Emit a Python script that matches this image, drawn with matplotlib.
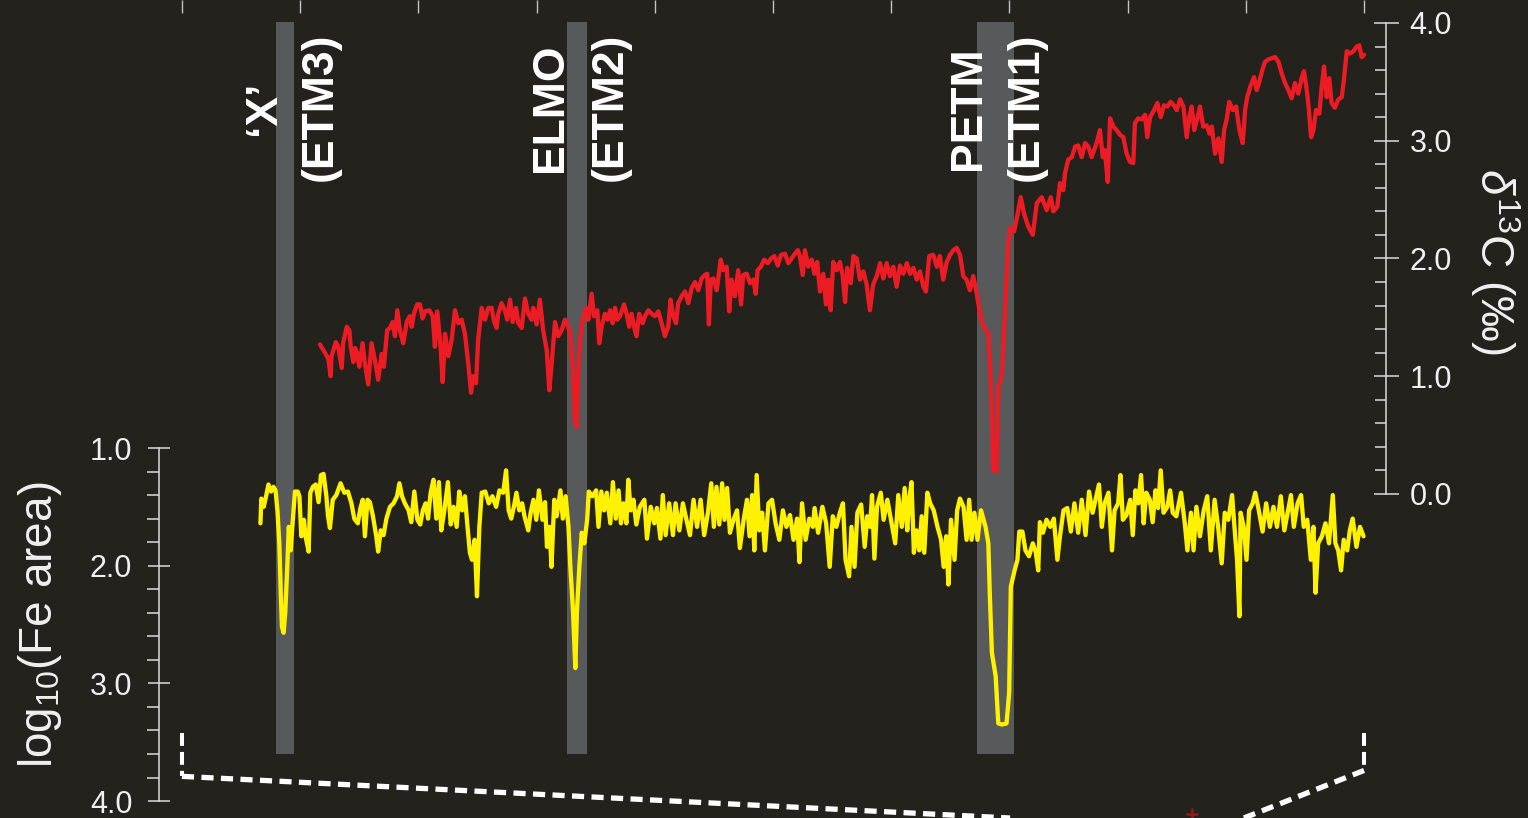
import numpy as np
import matplotlib
matplotlib.use("Agg")
import matplotlib.pyplot as plt
from matplotlib.ticker import FixedLocator
from matplotlib.transforms import blended_transform_factory

plt.rcParams['font.family'] = ['Liberation Sans', 'DejaVu Sans']
plt.rcParams['mathtext.fontset'] = 'custom'
plt.rcParams['mathtext.rm'] = 'Liberation Sans'
plt.rcParams['mathtext.it'] = 'Liberation Sans:italic'

# ---------------------------------------------------------------- data
# Bulk carbonate d13C (permil) against age (Ma)
d13c_age = [
    53.084, 53.119, 53.129, 53.133, 53.151, 53.161, 53.176, 53.182, 53.197, 53.208,
    53.214, 53.225, 53.232, 53.242, 53.250, 53.264, 53.274, 53.288, 53.302, 53.316,
    53.330, 53.345, 53.354, 53.368, 53.380, 53.391, 53.401, 53.411, 53.422, 53.436,
    53.451, 53.464, 53.472, 53.481, 53.495, 53.507, 53.518, 53.528, 53.546, 53.561,
    53.570, 53.580, 53.594, 53.603, 53.613, 53.627, 53.641, 53.655, 53.669, 53.683,
    53.697, 53.711, 53.723, 53.732, 53.744, 53.753, 53.768, 53.782, 53.796, 53.810,
    53.821, 53.831, 53.838, 53.852, 53.866, 53.876, 53.888, 53.899, 53.913, 53.923,
    53.937, 53.951, 53.965, 53.979, 53.986, 54.000, 54.014, 54.028, 54.043, 54.054,
    54.064, 54.078, 54.092, 54.106, 54.120, 54.134, 54.144, 54.155, 54.162, 54.170,
    54.176, 54.184, 54.195, 54.209, 54.219, 54.233, 54.243, 54.257, 54.265, 54.275,
    54.289, 54.301, 54.311, 54.322, 54.332, 54.341, 54.353, 54.370, 54.381, 54.392,
    54.402, 54.416, 54.423, 54.434, 54.449, 54.459, 54.473, 54.487, 54.501, 54.515,
    54.529, 54.543, 54.557, 54.567, 54.578, 54.590, 54.599, 54.614, 54.628, 54.642,
    54.656, 54.670, 54.684, 54.698, 54.712, 54.722, 54.729, 54.737, 54.748, 54.762,
    54.779, 54.790, 54.804, 54.815, 54.825, 54.839, 54.853, 54.865, 54.874, 54.889,
    54.903, 54.917, 54.927, 54.935, 54.949, 54.963, 54.978, 54.992, 55.006, 55.020,
    55.034, 55.051, 55.065, 55.079, 55.093, 55.105, 55.114, 55.126, 55.135, 55.149,
    55.164, 55.175, 55.187, 55.199, 55.213, 55.224, 55.234, 55.244, 55.255, 55.270,
    55.283, 55.295, 55.305, 55.314, 55.329, 55.340, 55.354, 55.368, 55.382, 55.396,
    55.410, 55.424, 55.439, 55.453, 55.467, 55.481, 55.495, 55.509, 55.523, 55.537,
    55.551, 55.566, 55.580, 55.594, 55.608, 55.622, 55.636, 55.647, 55.661, 55.678,
    55.693, 55.706, 55.720, 55.735, 55.749, 55.763, 55.777, 55.791, 55.805, 55.819,
    55.833, 55.847, 55.862, 55.876, 55.890, 55.911, 55.918, 55.925, 55.932, 55.946,
    55.953, 55.968, 55.981, 55.995, 56.003, 56.020, 56.033, 56.048, 56.062, 56.080,
    56.099, 56.116, 56.137, 56.158, 56.175, 56.186, 56.203, 56.214, 56.228, 56.235,
    56.249, 56.264, 56.278, 56.291, 56.306, 56.320, 56.334, 56.348, 56.369, 56.383,
    56.395, 56.404, 56.416, 56.426, 56.440, 56.454, 56.468, 56.482, 56.496, 56.510,
    56.524, 56.531, 56.545, 56.560, 56.574, 56.583, 56.595, 56.612, 56.626, 56.640,
    56.654, 56.668, 56.682, 56.696, 56.708, 56.722, 56.736, 56.750, 56.761, 56.771,
    56.782, 56.795, 56.806, 56.820, 56.835, 56.846, 56.856, 56.870, 56.884, 56.898,
    56.908, 56.919, 56.930, 56.945, 56.959, 56.973, 56.987, 56.997, 57.006, 57.021,
    57.035, 57.046, 57.057, 57.070, 57.081, 57.095, 57.110, 57.124, 57.138, 57.152,
    57.166, 57.180, 57.194, 57.208, 57.222, 57.237, 57.246, 57.258, 57.267, 57.276,
    57.286, 57.297, 57.311, 57.321, 57.331, 57.342, 57.353, 57.363, 57.377, 57.391,
    57.406, 57.415, 57.427, 57.441, 57.455, 57.469, 57.480, 57.490, 57.500,
]
d13c_val = [
    1.27, 1.15, 1.00, 1.17, 1.29, 1.25, 1.07, 1.28, 1.42, 1.39,
    1.25, 1.12, 1.24, 1.19, 1.08, 1.28, 1.11, 0.93, 1.28, 1.14,
    0.97, 1.19, 1.08, 1.39, 1.41, 1.46, 1.34, 1.56, 1.39, 1.28,
    1.46, 1.51, 1.42, 1.53, 1.61, 1.61, 1.49, 1.55, 1.56, 1.51,
    1.25, 1.55, 1.25, 0.95, 1.36, 1.17, 1.31, 1.56, 1.45, 1.48,
    1.36, 1.11, 0.86, 1.00, 0.94, 1.31, 1.58, 1.48, 1.58, 1.58,
    1.46, 1.41, 1.53, 1.62, 1.56, 1.48, 1.65, 1.46, 1.58, 1.45,
    1.41, 1.66, 1.53, 1.48, 1.58, 1.44, 1.65, 1.39, 1.22, 0.88,
    1.11, 1.46, 1.34, 1.39, 1.48, 1.42, 1.34, 1.03, 0.63, 0.57,
    1.03, 1.31, 1.48, 1.58, 1.48, 1.70, 1.51, 1.56, 1.28, 1.42,
    1.53, 1.48, 1.56, 1.45, 1.58, 1.48, 1.51, 1.61, 1.53, 1.42,
    1.53, 1.39, 1.34, 1.53, 1.45, 1.51, 1.56, 1.53, 1.51, 1.55,
    1.45, 1.34, 1.42, 1.65, 1.51, 1.45, 1.62, 1.68, 1.72, 1.62,
    1.75, 1.80, 1.73, 1.83, 1.86, 1.87, 1.44, 1.82, 1.83, 1.73,
    1.99, 1.90, 1.93, 1.55, 1.82, 1.68, 1.90, 1.61, 1.86, 1.87,
    1.79, 1.82, 1.70, 1.90, 1.93, 1.99, 1.96, 2.00, 2.02, 1.94,
    2.03, 2.04, 1.96, 2.00, 2.04, 2.07, 2.02, 1.86, 2.07, 1.93,
    1.99, 1.87, 1.97, 1.72, 1.87, 1.61, 1.82, 1.56, 1.97, 1.90,
    1.97, 1.85, 1.63, 1.92, 1.79, 2.02, 2.00, 1.82, 1.89, 1.78,
    1.56, 1.78, 1.85, 1.96, 1.83, 1.96, 1.85, 1.93, 1.76, 1.94,
    1.87, 1.96, 1.87, 1.92, 1.82, 1.89, 1.76, 1.72, 2.02, 2.03,
    1.93, 2.02, 1.82, 1.97, 2.03, 2.07, 2.09, 2.03, 1.85, 1.82,
    1.73, 1.85, 1.70, 1.53, 1.42, 1.36, 1.11, 0.77, 0.20, 0.19,
    0.91, 1.00, 1.53, 2.13, 2.26, 2.23, 2.36, 2.52, 2.38, 2.27,
    2.20, 2.47, 2.52, 2.41, 2.52, 2.40, 2.44, 2.64, 2.58, 2.72,
    2.84, 2.86, 2.95, 2.96, 2.86, 2.98, 2.95, 2.86, 2.98, 3.09,
    2.86, 2.92, 2.65, 3.19, 3.12, 3.09, 3.05, 3.03, 2.89, 2.82,
    2.81, 3.15, 3.19, 3.18, 3.22, 3.03, 3.20, 3.26, 3.32, 3.20,
    3.30, 3.29, 3.33, 3.30, 3.26, 3.35, 3.29, 3.03, 3.20, 3.29,
    3.09, 3.19, 3.29, 3.12, 3.13, 3.06, 3.12, 2.89, 3.02, 2.82,
    3.09, 3.18, 3.33, 3.26, 3.29, 3.09, 2.98, 3.26, 3.37, 3.47,
    3.54, 3.43, 3.50, 3.60, 3.67, 3.69, 3.70, 3.71, 3.67, 3.57,
    3.49, 3.43, 3.36, 3.49, 3.40, 3.54, 3.59, 3.43, 3.26, 3.03,
    3.09, 3.26, 3.23, 3.46, 3.63, 3.37, 3.53, 3.32, 3.28, 3.35,
    3.37, 3.52, 3.76, 3.74, 3.76, 3.80, 3.81, 3.71, 3.73,
]

# XRF Fe counts, log10(Fe area), against age (Ma)
fe_age = [
    52.832, 52.836, 52.846, 52.857, 52.866, 52.877, 52.887, 52.896, 52.904, 52.912,
    52.918, 52.923, 52.930, 52.937, 52.945, 52.952, 52.960, 52.967, 52.978, 52.990,
    52.997, 53.005, 53.016, 53.023, 53.036, 53.043, 53.054, 53.066, 53.078, 53.088,
    53.099, 53.111, 53.118, 53.126, 53.138, 53.153, 53.171, 53.187, 53.202, 53.217,
    53.229, 53.244, 53.255, 53.265, 53.274, 53.285, 53.295, 53.308, 53.322, 53.330,
    53.341, 53.353, 53.365, 53.380, 53.395, 53.410, 53.420, 53.431, 53.443, 53.459,
    53.470, 53.483, 53.496, 53.508, 53.519, 53.531, 53.541, 53.552, 53.564, 53.576,
    53.587, 53.597, 53.610, 53.625, 53.637, 53.649, 53.662, 53.673, 53.685, 53.697,
    53.708, 53.718, 53.727, 53.738, 53.748, 53.758, 53.768, 53.783, 53.798, 53.813,
    53.829, 53.843, 53.859, 53.871, 53.882, 53.893, 53.904, 53.915, 53.927, 53.939,
    53.949, 53.965, 53.975, 53.987, 53.999, 54.010, 54.025, 54.036, 54.044, 54.055,
    54.063, 54.075, 54.085, 54.101, 54.111, 54.123, 54.135, 54.143, 54.154, 54.164,
    54.171, 54.181, 54.191, 54.202, 54.214, 54.221, 54.236, 54.252, 54.262, 54.274,
    54.286, 54.297, 54.312, 54.323, 54.335, 54.347, 54.357, 54.368, 54.380, 54.388,
    54.398, 54.410, 54.422, 54.437, 54.456, 54.467, 54.483, 54.498, 54.509, 54.524,
    54.534, 54.546, 54.561, 54.577, 54.588, 54.604, 54.619, 54.634, 54.649, 54.664,
    54.679, 54.694, 54.709, 54.725, 54.739, 54.750, 54.761, 54.773, 54.785, 54.795,
    54.806, 54.818, 54.833, 54.848, 54.860, 54.876, 54.890, 54.901, 54.912, 54.921,
    54.931, 54.942, 54.954, 54.966, 54.981, 54.996, 55.011, 55.027, 55.042, 55.057,
    55.072, 55.087, 55.102, 55.112, 55.123, 55.138, 55.154, 55.169, 55.176, 55.191,
    55.209, 55.225, 55.240, 55.253, 55.268, 55.283, 55.296, 55.307, 55.322, 55.332,
    55.345, 55.357, 55.373, 55.388, 55.399, 55.411, 55.419, 55.429, 55.440, 55.456,
    55.468, 55.484, 55.499, 55.517, 55.530, 55.545, 55.557, 55.568, 55.576, 55.586,
    55.596, 55.607, 55.619, 55.629, 55.640, 55.653, 55.665, 55.680, 55.696, 55.711,
    55.722, 55.733, 55.742, 55.753, 55.768, 55.779, 55.791, 55.806, 55.819, 55.830,
    55.840, 55.852, 55.865, 55.880, 55.899, 55.911, 55.917, 55.926, 55.942, 55.953,
    55.968, 55.988, 55.999, 56.006, 56.022, 56.034, 56.042, 56.055, 56.068, 56.083,
    56.099, 56.111, 56.122, 56.129, 56.142, 56.157, 56.173, 56.188, 56.203, 56.214,
    56.229, 56.245, 56.260, 56.275, 56.291, 56.306, 56.322, 56.337, 56.352, 56.368,
    56.379, 56.391, 56.403, 56.419, 56.434, 56.445, 56.460, 56.470, 56.480, 56.495,
    56.511, 56.522, 56.533, 56.545, 56.557, 56.568, 56.579, 56.594, 56.606, 56.618,
    56.629, 56.640, 56.652, 56.668, 56.680, 56.691, 56.706, 56.726, 56.742, 56.753,
    56.768, 56.779, 56.791, 56.806, 56.822, 56.837, 56.852, 56.868, 56.883, 56.898,
    56.911, 56.926, 56.942, 56.952, 56.963, 56.973, 56.978, 56.991, 57.003, 57.014,
    57.029, 57.040, 57.055, 57.071, 57.086, 57.102, 57.117, 57.132, 57.148, 57.163,
    57.179, 57.191, 57.203, 57.219, 57.234, 57.245, 57.260, 57.275, 57.286, 57.295,
    57.306, 57.322, 57.337, 57.352, 57.368, 57.379, 57.391, 57.403, 57.414, 57.429,
    57.440, 57.452, 57.468, 57.483, 57.498,
]
fe_log = [
    1.64, 1.43, 1.50, 1.40, 1.31, 1.37, 1.33, 1.36, 1.53, 1.81,
    2.23, 2.52, 2.57, 2.40, 2.04, 1.67, 1.87, 1.67, 1.37, 1.37,
    1.41, 1.75, 1.61, 1.75, 1.88, 1.38, 1.33, 1.31, 1.46, 1.23,
    1.22, 1.41, 1.58, 1.68, 1.44, 1.40, 1.30, 1.38, 1.37, 1.47,
    1.60, 1.64, 1.51, 1.44, 1.75, 1.44, 1.46, 1.58, 1.75, 1.88,
    1.70, 1.74, 1.60, 1.50, 1.47, 1.41, 1.30, 1.41, 1.47, 1.53,
    1.63, 1.37, 1.61, 1.65, 1.53, 1.47, 1.60, 1.38, 1.27, 1.60,
    1.29, 1.70, 1.53, 1.29, 1.65, 1.50, 1.67, 1.37, 1.53, 1.41,
    1.67, 1.89, 1.95, 1.78, 2.26, 1.67, 1.38, 1.37, 1.47, 1.41,
    1.50, 1.36, 1.38, 1.19, 1.53, 1.60, 1.50, 1.38, 1.53, 1.47,
    1.58, 1.70, 1.55, 1.44, 1.61, 1.36, 1.61, 1.46, 1.84, 1.67,
    2.01, 1.44, 1.58, 1.36, 1.60, 1.41, 1.67, 2.01, 2.38, 2.87,
    2.38, 2.01, 1.72, 1.81, 1.61, 1.37, 1.41, 1.36, 1.67, 1.37,
    1.53, 1.38, 1.64, 1.29, 1.60, 1.36, 1.64, 1.47, 1.64, 1.27,
    1.53, 1.44, 1.65, 1.50, 1.44, 1.77, 1.50, 1.64, 1.51, 1.77,
    1.40, 1.74, 1.47, 1.74, 1.47, 1.70, 1.47, 1.61, 1.74, 1.44,
    1.67, 1.44, 1.74, 1.55, 1.30, 1.67, 1.33, 1.65, 1.30, 1.61,
    1.34, 1.72, 1.61, 1.53, 1.85, 1.61, 1.44, 1.75, 1.40, 1.87,
    1.23, 1.70, 1.55, 1.87, 1.47, 1.44, 1.64, 1.78, 1.53, 1.67,
    1.57, 1.78, 1.60, 1.97, 1.47, 1.78, 1.60, 1.67, 1.51, 1.72,
    1.50, 1.64, 2.01, 1.58, 1.67, 1.55, 1.47, 1.95, 2.09, 1.67,
    2.01, 1.55, 1.48, 1.84, 1.58, 1.67, 1.40, 1.94, 1.50, 1.38,
    1.61, 1.44, 1.61, 1.81, 1.40, 1.67, 1.34, 1.70, 1.44, 1.29,
    1.89, 1.70, 1.87, 1.58, 1.89, 1.38, 1.47, 1.53, 1.67, 1.78,
    2.01, 1.75, 2.16, 1.61, 1.95, 1.53, 1.43, 1.50, 1.78, 1.44,
    1.78, 1.55, 1.78, 1.53, 1.67, 1.81, 2.23, 2.74, 2.94, 3.34,
    3.35, 3.34, 3.08, 2.18, 2.04, 1.95, 1.71, 1.71, 1.87, 1.92,
    1.81, 1.88, 2.04, 1.63, 1.72, 1.61, 1.67, 1.60, 1.95, 1.75,
    1.53, 1.51, 1.71, 1.47, 1.72, 1.44, 1.74, 1.37, 1.55, 1.41,
    1.31, 1.67, 1.47, 1.38, 1.87, 1.53, 1.47, 1.23, 1.61, 1.57,
    1.44, 1.74, 1.36, 1.47, 1.23, 1.64, 1.38, 1.44, 1.63, 1.36,
    1.51, 1.19, 1.55, 1.50, 1.36, 1.55, 1.58, 1.38, 1.64, 1.87,
    1.55, 1.87, 1.50, 1.75, 1.53, 1.41, 1.87, 1.44, 1.67, 1.98,
    1.55, 1.61, 1.40, 1.67, 1.95, 2.43, 1.55, 1.67, 1.95, 1.53,
    1.47, 1.38, 1.53, 1.71, 1.47, 1.67, 1.50, 1.67, 1.41, 1.70,
    1.53, 1.40, 1.67, 1.47, 1.40, 1.67, 1.61, 1.95, 1.67, 2.23,
    1.81, 1.75, 1.64, 1.81, 1.40, 1.81, 1.87, 2.04, 1.78, 1.87,
    1.70, 1.60, 1.84, 1.67, 1.75,
]

# Hyperthermal events: name, alternative name, age interval (Ma)
event_names = ["\u2018X\u2019", "ELMO", "PETM"]
event_alias = ["(ETM3)", "(ETM2)", "(ETM1)"]
event_start = [52.898, 54.129, 55.863]
event_end = [52.974, 54.213, 56.020]

age_ticks = [52.5, 53.0, 53.5, 54.0, 54.5, 55.0, 55.5, 56.0, 56.5, 57.0, 57.5]
fe_ticks = [1.0, 2.0, 3.0, 4.0]
d13c_ticks = [0.0, 1.0, 2.0, 3.0, 4.0]

# ---------------------------------------------------------------- style
BG = '#23221d'
AXIS_COL = '#dcdcdc'
LABEL_COL = '#f0f0f0'
BAND_COL = '#58595b'
RED = '#ed1c24'
YELLOW = '#fff200'

W, H = 1528, 818
fig = plt.figure(figsize=(W / 100, H / 100), dpi=100, facecolor=BG)
ax = fig.add_axes([159 / W, 0.0, 1227 / W, 1.0])
ax.set_facecolor(BG)
ax.set_xlim(52.403, 57.593)
ax.set_ylim(4.144, -2.807)          # log10(Fe area), increasing downward

ax2 = ax.twinx()
ax2.set_ylim(-2.752, 4.195)         # d13C

# event bands
for s, e in zip(event_start, event_end):
    ax.axvspan(s, e, ymin=0.078, ymax=0.973, color=BAND_COL, lw=0, zorder=1)

# records
ax.plot(fe_age, fe_log, color=YELLOW, lw=3.1, zorder=3,
        solid_joinstyle='round', solid_capstyle='round')
ax2.plot(d13c_age, d13c_val, color=RED, lw=3.1, zorder=3,
         solid_joinstyle='round', solid_capstyle='round')

# spines
for side in ('top', 'bottom', 'right'):
    ax.spines[side].set_visible(False)
for side in ('top', 'bottom', 'left'):
    ax2.spines[side].set_visible(False)
ax.spines['left'].set_bounds(1.0, 4.0)
ax.spines['left'].set_color(AXIS_COL)
ax.spines['left'].set_linewidth(1.1)
ax2.spines['right'].set_bounds(0.0, 4.0)
ax2.spines['right'].set_color(AXIS_COL)
ax2.spines['right'].set_linewidth(1.1)

# top age ticks (unlabelled)
ax.xaxis.set_ticks_position('top')
ax.set_xticks(age_ticks)
ax.tick_params(axis='x', which='major', direction='in', length=9.5, width=1.0,
               color='#c4c4c4', labeltop=False, labelbottom=False)

# left axis: log10(Fe area)
ax.set_yticks(fe_ticks)
ax.set_yticklabels([f"{v:.1f}" for v in fe_ticks])
ax.yaxis.set_minor_locator(FixedLocator(
    [v for v in np.arange(1.2, 4.0, 0.2) if abs(v - round(v)) > 1e-6]))
ax.tick_params(axis='y', which='major', direction='inout', length=16.5, width=1.1,
               color=AXIS_COL, labelcolor=LABEL_COL, labelsize=22, pad=11)
ax.tick_params(axis='y', which='minor', direction='out', length=8.6, width=1.1,
               color=AXIS_COL)

# right axis: d13C
ax2.set_yticks(d13c_ticks)
ax2.set_yticklabels([f"{v:.1f}" for v in d13c_ticks])
ax2.yaxis.set_minor_locator(FixedLocator(
    [v for v in np.arange(0.2, 4.0, 0.2) if abs(v - round(v)) > 1e-6]))
ax2.tick_params(axis='y', which='major', direction='inout', length=18, width=1.1,
                color=AXIS_COL, labelcolor=LABEL_COL, labelsize=22, pad=8)
ax2.tick_params(axis='y', which='minor', direction='in', length=8, width=1.1,
                color=AXIS_COL)

# axis titles
fig.text(40 / W, 1 - 625 / H, r"log$_{\mathregular{10}}$(Fe area)", rotation=90,
         ha='center', va='center', fontsize=33, color=LABEL_COL)
fig.text(1495 / W, 1 - 262 / H, r"$\delta^{\mathregular{13}}$C (‰)", rotation=270,
         ha='center', va='center', fontsize=33, color=LABEL_COL)

# event labels
name_x = [52.843, 54.061, 55.829]
alias_x = [53.084, 54.311, 56.070]
tr = blended_transform_factory(ax2.transData, ax2.transAxes)
for nm, al, nx, axx in zip(event_names, event_alias, name_x, alias_x):
    ax2.text(nx, 0.868, nm, transform=tr, rotation=90, ha='center', va='center',
             fontsize=32, fontweight='bold', color='white', zorder=5)
    ax2.text(axx, 0.870, al, transform=tr, rotation=90, ha='center', va='center',
             fontsize=32, fontweight='bold', color='white', zorder=5)

# dashed bracket towards the panel below
ax.plot([52.5, 52.5], [3.42, 3.79], color='white', lw=2.9, ls=(0, (3.2, 1.5)),
        clip_on=False, zorder=4)
ax.plot([52.5, 56.003], [3.79, 4.144], color='white', lw=3.8, ls=(0, (2.3, 1.4)),
        clip_on=False, zorder=4)
ax.plot([57.5, 57.5], [3.42, 3.74], color='white', lw=2.9, ls=(0, (3.2, 1.5)),
        clip_on=False, zorder=4)
ax.plot([57.5, 56.992], [3.74, 4.144], color='white', lw=3.8, ls=(0, (2.3, 1.4)),
        clip_on=False, zorder=4)
ax.plot([56.772], [4.11], marker='+', color='#8b1a1a', ms=9, mew=2,
        clip_on=False, zorder=4)

fig.savefig("out.png", dpi=100, facecolor=BG)
